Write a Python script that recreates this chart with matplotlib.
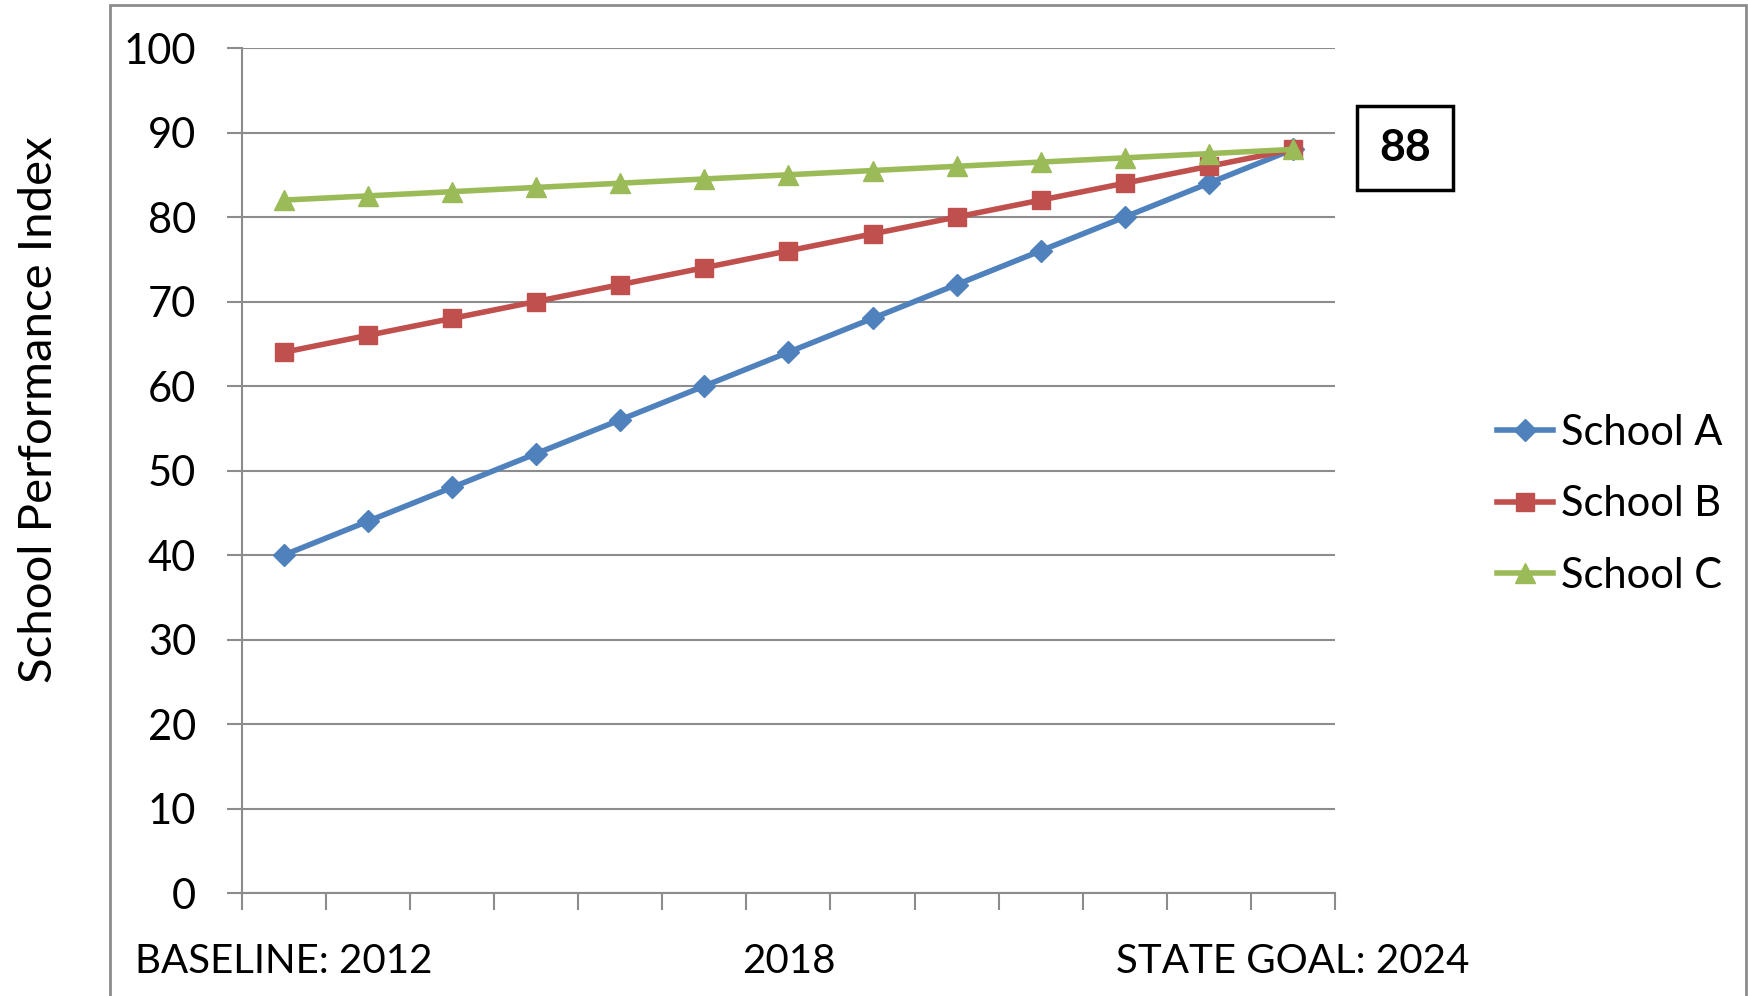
import matplotlib
matplotlib.use("Agg")
import matplotlib.pyplot as plt
from matplotlib.patches import Rectangle

# Data
years = list(range(2012, 2025))
school_a = [40, 44, 48, 52, 56, 60, 64, 68, 72, 76, 80, 84, 88]
school_b = [64, 66, 68, 70, 72, 74, 76, 78, 80, 82, 84, 86, 88]
school_c = [82, 82.5, 83, 83.5, 84, 84.5, 85, 85.5, 86, 86.5, 87, 87.5, 88]
x_labels = {0: "BASELINE: 2012", 6: "2018", 12: "STATE GOAL: 2024"}
goal_value = 88

plt.rcParams["font.family"] = ["Lato", "DejaVu Sans"]

fig = plt.figure(figsize=(17.48, 9.96), dpi=100)
ax = fig.add_axes([0.1384, 0.1034, 0.6253, 0.8484])

# outer chart border
fig.patches.append(Rectangle((110 / 1748, -0.05), (1746 - 110) / 1748, 1 - 5 / 996 + 0.05,
                             transform=fig.transFigure, fill=False,
                             edgecolor="#8c8c8c", linewidth=2))

xs = list(range(len(years)))
ax.plot(xs, school_a, color="#4F81BD", linewidth=4, marker="D", markersize=11, label="School A")
ax.plot(xs, school_b, color="#C0504D", linewidth=4, marker="s", markersize=13, label="School B")
ax.plot(xs, school_c, color="#9BBB59", linewidth=4, marker="^", markersize=14, label="School C")

ax.set_xlim(-0.5, len(years) - 0.5)
ax.set_ylim(0, 100)
ax.set_yticks(range(0, 101, 10))
ax.grid(axis="y", color="#8c8c8c", linewidth=1.5)
ax.set_axisbelow(True)

ax.set_xticks(list(x_labels.keys()))
ax.set_xticklabels(list(x_labels.values()))
ax.set_xticks([i - 0.5 for i in range(len(years) + 1)], minor=True)
ax.tick_params(axis="x", which="major", length=0, pad=36, labelsize=29)
ax.tick_params(axis="x", which="minor", length=12, width=1.5, color="#8c8c8c")
ax.tick_params(axis="y", length=11, width=1.5, color="#8c8c8c", pad=22, labelsize=30)

for side in ["top", "right"]:
    ax.spines[side].set_visible(False)
for side in ["left", "bottom"]:
    ax.spines[side].set_color("#8c8c8c")
    ax.spines[side].set_linewidth(1.5)

fig.text(39 / 1748, 1 - 410 / 996, "School Performance Index", rotation=90,
         ha="center", va="center", fontsize=34)

ax.legend(loc="center left", bbox_to_anchor=(1.148, 0.46), frameon=False, fontsize=30,
          borderaxespad=0, borderpad=0, handlelength=1.35, handletextpad=0.2,
          labelspacing=0.8)

fig.text(1405 / 1748, 1 - 148 / 996, str(goal_value), ha="center", va="center",
         fontsize=32, fontweight="bold",
         bbox=dict(boxstyle="square,pad=0.5", facecolor="white", edgecolor="black", linewidth=2.5))

fig.savefig("out.png", dpi=100)
